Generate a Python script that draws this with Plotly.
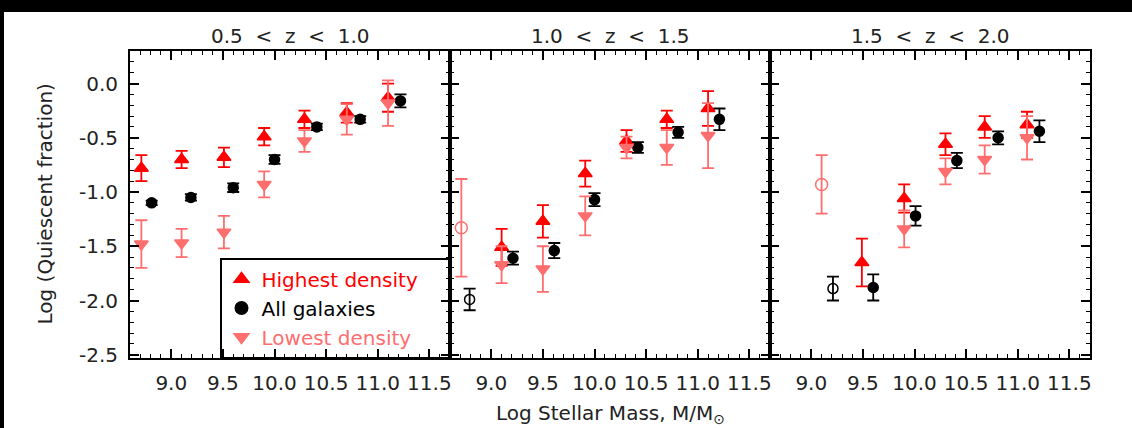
import plotly.graph_objects as go
from plotly.subplots import make_subplots

# ---------------------------------------------------------------------------
# Quiescent fraction vs stellar mass in three redshift slices
# ---------------------------------------------------------------------------
panel_titles = ["0.5\u00a0 <\u00a0 z\u00a0 <\u00a0 1.0",
                "1.0\u00a0 <\u00a0 z\u00a0 <\u00a0 1.5",
                "1.5\u00a0 <\u00a0 z\u00a0 <\u00a0 2.0"]

x_tick_vals = [9.0, 9.5, 10.0, 10.5, 11.0, 11.5]
x_tick_text = ["9.0", "9.5", "10.0", "10.5", "11.0", "11.5"]
y_tick_vals = [-2.5, -2.0, -1.5, -1.0, -0.5, 0.0]
y_tick_text = ["-2.5", "-2.0", "-1.5", "-1.0", "-0.5", "0.0"]

# --- 0.5 < z < 1.0 ---------------------------------------------------------
dens_mass_z1 = [8.71, 9.10, 9.51, 9.90, 10.29, 10.70, 11.10]
hi_frac_z1 = [-0.78, -0.70, -0.68, -0.49, -0.33, -0.27, -0.13]
hi_err_z1 = [0.12, 0.08, 0.09, 0.08, 0.08, 0.09, 0.13]
lo_frac_z1 = [-1.48, -1.47, -1.37, -0.93, -0.53, -0.33, -0.18]
lo_err_z1 = [0.22, 0.13, 0.15, 0.12, 0.10, 0.14, 0.21]
lo_open_z1 = [False, False, False, False, False, False, False]
all_mass_z1 = [8.81, 9.19, 9.60, 10.00, 10.41, 10.83, 11.22]
all_frac_z1 = [-1.10, -1.05, -0.96, -0.70, -0.40, -0.33, -0.16]
all_err_z1 = [0.02, 0.03, 0.04, 0.04, 0.03, 0.03, 0.06]
all_open_z1 = [False, False, False, False, False, False, False]

# --- 1.0 < z < 1.5 ---------------------------------------------------------
dens_mass_z2 = [8.71, 9.10, 9.50, 9.91, 10.31, 10.70, 11.10]
hi_frac_z2 = [None, -1.51, -1.27, -0.83, -0.53, -0.33, -0.23]
hi_err_z2 = [None, 0.17, 0.15, 0.12, 0.10, 0.08, 0.16]
lo_frac_z2 = [-1.33, -1.67, -1.71, -1.22, -0.59, -0.59, -0.48]
lo_err_z2 = [0.45, 0.17, 0.21, 0.18, 0.10, 0.16, 0.30]
lo_open_z2 = [True, False, False, False, False, False, False]
all_mass_z2 = [8.79, 9.21, 9.61, 10.00, 10.42, 10.81, 11.21]
all_frac_z2 = [-1.99, -1.61, -1.54, -1.07, -0.59, -0.45, -0.33]
all_err_z2 = [0.10, 0.06, 0.07, 0.06, 0.05, 0.05, 0.10]
all_open_z2 = [True, False, False, False, False, False, False]

# --- 1.5 < z < 2.0 ---------------------------------------------------------
dens_mass_z3 = [9.10, 9.49, 9.90, 10.30, 10.68, 11.09]
hi_frac_z3 = [None, -1.65, -1.06, -0.56, -0.40, -0.38]
hi_err_z3 = [None, 0.22, 0.13, 0.10, 0.10, 0.12]
lo_frac_z3 = [-0.93, None, -1.34, -0.81, -0.70, -0.50]
lo_err_z3 = [0.27, None, 0.17, 0.12, 0.13, 0.20]
lo_open_z3 = [True, False, False, False, False, False]
all_mass_z3 = [9.21, 9.60, 10.01, 10.41, 10.81, 11.21]
all_frac_z3 = [-1.89, -1.88, -1.22, -0.71, -0.50, -0.44]
all_err_z3 = [0.11, 0.12, 0.09, 0.07, 0.06, 0.10]
all_open_z3 = [True, False, False, False, False, False]

panels = [
    (dens_mass_z1, hi_frac_z1, hi_err_z1, lo_frac_z1, lo_err_z1, lo_open_z1,
     all_mass_z1, all_frac_z1, all_err_z1, all_open_z1),
    (dens_mass_z2, hi_frac_z2, hi_err_z2, lo_frac_z2, lo_err_z2, lo_open_z2,
     all_mass_z2, all_frac_z2, all_err_z2, all_open_z2),
    (dens_mass_z3, hi_frac_z3, hi_err_z3, lo_frac_z3, lo_err_z3, lo_open_z3,
     all_mass_z3, all_frac_z3, all_err_z3, all_open_z3),
]

RED = "#ff0000"
PINK = "#ff6e6e"
BLACK = "#000000"
FONT = "DejaVu Sans"
PAD = "\u00a0" * 4  # trailing room inside the legend frame

fig = make_subplots(rows=1, cols=3, shared_yaxes=True, horizontal_spacing=0)


def series(x, y, err, color, symbols, size, name, legend, col):
    fig.add_trace(go.Scatter(
        x=x, y=y, mode="markers", name=name, showlegend=legend,
        marker=dict(symbol=symbols, size=size, color=color,
                    line=dict(color=color, width=1.5)),
        error_y=dict(type="data", array=err, visible=True, color=color,
                     thickness=1.8, width=6),
        cliponaxis=False,
    ), row=1, col=col)


for i, (dm, hy, he, ly, le, lopen, am, ay, ae, aopen) in enumerate(panels):
    col = i + 1
    first = i == 0
    series(dm, hy, he, RED, ["triangle-up"] * len(dm), 12,
           f"<span style='color:{RED}'>Highest density{PAD}</span>", first, col)
    series(am, ay, ae, BLACK, ["circle-open" if o else "circle" for o in aopen],
           10, "All galaxies", first, col)
    series(dm, ly, le, PINK, ["circle-open" if o else "triangle-down" for o in lopen],
           12, f"<span style='color:{PINK}'>Lowest density</span>", first, col)

axis_common = dict(
    showline=True, linecolor=BLACK, linewidth=2, mirror="allticks",
    ticks="inside", ticklen=9, tickwidth=1.5, tickcolor=BLACK,
    showgrid=False, zeroline=False,
    tickfont=dict(family=FONT, size=20, color="#222222"),
    minor=dict(ticks="inside", ticklen=4, tickwidth=1.2, tickcolor=BLACK,
               tick0=0, dtick=0.1, showgrid=False),
)

for col in range(1, 4):
    fig.update_xaxes(range=[8.6, 11.7], tickmode="array",
                     tickvals=x_tick_vals, ticktext=x_tick_text,
                     ticklabelstandoff=6,
                     row=1, col=col, **axis_common)
    fig.update_yaxes(range=[-2.53, 0.30], tickmode="array",
                     tickvals=y_tick_vals, ticktext=y_tick_text,
                     showticklabels=(col == 1), ticklabelstandoff=6,
                     row=1, col=col, **axis_common)

annotations = []
for i, title in enumerate(panel_titles):
    annotations.append(dict(
        text=title, xref="paper", yref="paper", x=(2 * i + 1) / 6, y=1,
        xanchor="center", yanchor="bottom", yshift=1, showarrow=False,
        font=dict(family=FONT, size=20, color="#222222")))
annotations.append(dict(
    text="Log Stellar Mass, M/M<sub>\u2299</sub>", xref="paper", yref="paper",
    x=0.5, y=0, xanchor="center", yanchor="middle", yshift=-56,
    showarrow=False, font=dict(family=FONT, size=20, color="#222222")))
annotations.append(dict(
    text="Log (Quiescent fraction)", xref="paper", yref="paper",
    x=0, y=0.5, xanchor="center", yanchor="middle", xshift=-86,
    textangle=-90, showarrow=False,
    font=dict(family=FONT, size=20, color="#222222")))

shapes = [
    # dark frame strips along the top and left page edges
    dict(type="rect", xref="paper", yref="paper", xsizemode="pixel",
         ysizemode="pixel", xanchor=0, yanchor=1, x0=-140, x1=1100,
         y0=39, y1=70, fillcolor=BLACK, line=dict(width=0), layer="above"),
    dict(type="rect", xref="paper", yref="paper", xsizemode="pixel",
         ysizemode="pixel", xanchor=0, yanchor=0, x0=-140, x1=-126,
         y0=-90, y1=400, fillcolor=BLACK, line=dict(width=0), layer="above"),
]

fig.update_layout(
    width=1132, height=428,
    margin=dict(l=130, r=42, t=51, b=70),
    paper_bgcolor="white", plot_bgcolor="white",
    font=dict(family=FONT, color="#222222"),
    annotations=annotations, shapes=shapes,
    legend=dict(
        x=1 / 3, y=0, xanchor="right", yanchor="bottom",
        bgcolor="rgba(0,0,0,0)", bordercolor=BLACK, borderwidth=1.5,
        font=dict(family=FONT, size=20, color=BLACK),
        tracegroupgap=0, itemsizing="constant",
    ),
)

fig.write_html("out.html")
